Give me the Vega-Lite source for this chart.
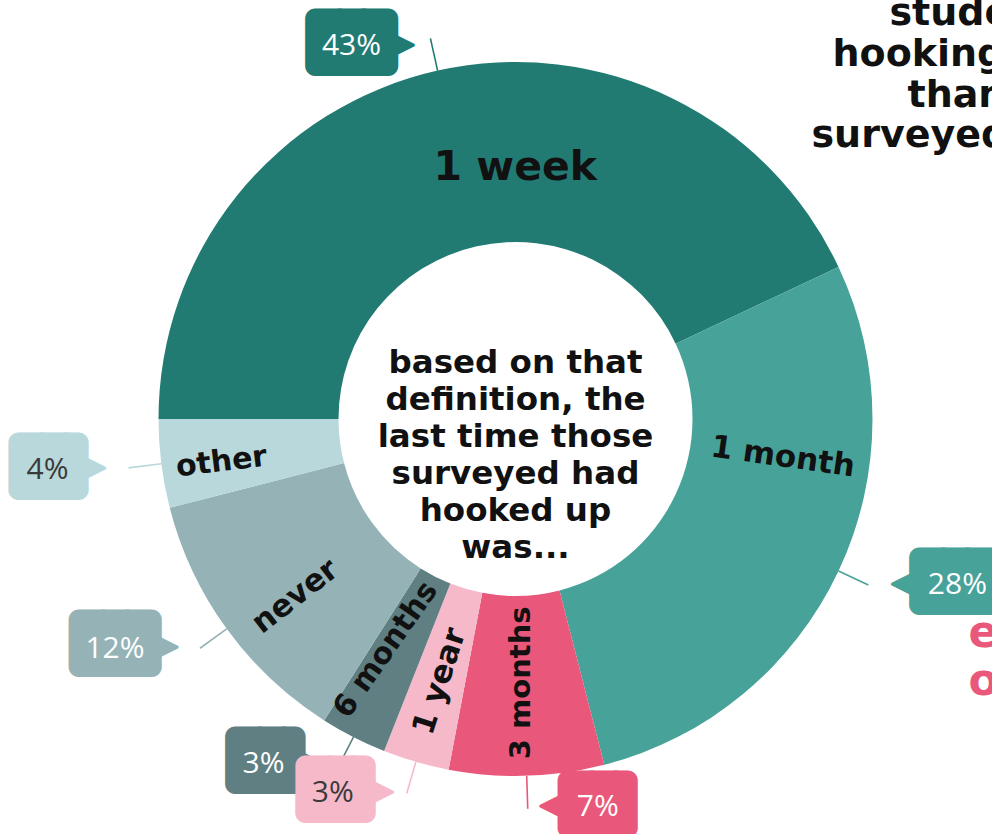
{
  "$schema": "https://vega.github.io/schema/vega-lite/v6.json",
  "width": 953,
  "height": 830,
  "padding": {"left": 39, "top": 4, "right": 0, "bottom": 0},
  "autosize": {"type": "none"},
  "background": "white",
  "config": {"view": {"stroke": null}},
  "data": {
    "values": [
      {"when": "1 week", "share": 0.43, "rank": 1},
      {"when": "1 month", "share": 0.28, "rank": 2},
      {"when": "3 months", "share": 0.07, "rank": 3},
      {"when": "1 year", "share": 0.03, "rank": 4},
      {"when": "6 months", "share": 0.03, "rank": 5},
      {"when": "never", "share": 0.12, "rank": 6},
      {"when": "other", "share": 0.04, "rank": 7}
    ]
  },
  "layer": [
    {
      "mark": {"type": "arc", "innerRadius": 177, "outerRadius": 357},
      "encoding": {
        "theta": {"field": "share", "type": "quantitative", "stack": true, "scale": {"domain": [0, 1], "range": [-1.5707963, 4.712389]}},
        "order": {"field": "rank", "type": "quantitative"},
        "color": {"field": "when", "type": "nominal", "legend": null,
          "scale": {"domain": ["1 week", "1 month", "3 months", "1 year", "6 months", "never", "other"],
                    "range": ["#217b73", "#47a29a", "#e9577b", "#f6b9ca", "#5f7f83", "#95b3b6", "#b8d8dc"]}}
      }
    },
    {
      "mark": {"type": "arc", "innerRadius": 357, "outerRadius": 390, "padAngle": 3, "filled": false, "strokeWidth": 1.6},
      "encoding": {
        "theta": {"field": "share", "type": "quantitative", "stack": true, "scale": {"domain": [0, 1], "range": [-1.5707963, 4.712389]}},
        "order": {"field": "rank", "type": "quantitative"},
        "color": {"field": "when", "type": "nominal", "legend": null,
          "scale": {"domain": ["1 week", "1 month", "3 months", "1 year", "6 months", "never", "other"],
                    "range": ["#217b73", "#47a29a", "#e9577b", "#f6b9ca", "#5f7f83", "#95b3b6", "#b8d8dc"]}}
      }
    },
    {
      "mark": {"type": "text", "radius": 267, "angle": 0, "dx": 58, "dy": 10, "font": "DejaVu Sans", "fontWeight": "bold", "fontSize": 41, "color": "#111111"},
      "encoding": {
        "theta": {"field": "share", "type": "quantitative", "stack": true, "scale": {"domain": [0, 1], "range": [-1.5707963, 4.712389]}},
        "order": {"field": "rank", "type": "quantitative"},
        "detail": {"field": "when", "type": "nominal"},
        "text": {"condition": {"test": "datum.when === '1 week'", "field": "when", "type": "nominal"}, "value": ""}
      }
    },
    {
      "mark": {"type": "text", "radius": 267, "angle": 8, "dx": 15, "dy": -78, "font": "DejaVu Sans", "fontWeight": "bold", "fontSize": 31, "color": "#111111"},
      "encoding": {
        "theta": {"field": "share", "type": "quantitative", "stack": true, "scale": {"domain": [0, 1], "range": [-1.5707963, 4.712389]}},
        "order": {"field": "rank", "type": "quantitative"},
        "detail": {"field": "when", "type": "nominal"},
        "text": {"condition": {"test": "datum.when === '1 month'", "field": "when", "type": "nominal"}, "value": ""}
      }
    },
    {
      "mark": {"type": "text", "radius": 267, "angle": -90, "dx": 3, "dy": -3, "font": "DejaVu Sans", "fontWeight": "bold", "fontSize": 29, "color": "#111111"},
      "encoding": {
        "theta": {"field": "share", "type": "quantitative", "stack": true, "scale": {"domain": [0, 1], "range": [-1.5707963, 4.712389]}},
        "order": {"field": "rank", "type": "quantitative"},
        "detail": {"field": "when", "type": "nominal"},
        "text": {"condition": {"test": "datum.when === '3 months'", "field": "when", "type": "nominal"}, "value": ""}
      }
    },
    {
      "mark": {"type": "text", "radius": 267, "angle": -72, "dx": -6, "dy": 1, "font": "DejaVu Sans", "fontWeight": "bold", "fontSize": 31, "color": "#111111"},
      "encoding": {
        "theta": {"field": "share", "type": "quantitative", "stack": true, "scale": {"domain": [0, 1], "range": [-1.5707963, 4.712389]}},
        "order": {"field": "rank", "type": "quantitative"},
        "detail": {"field": "when", "type": "nominal"},
        "text": {"condition": {"test": "datum.when === '1 year'", "field": "when", "type": "nominal"}, "value": ""}
      }
    },
    {
      "mark": {"type": "text", "radius": 267, "angle": -55, "dx": 1, "dy": -11, "font": "DejaVu Sans", "fontWeight": "bold", "fontSize": 30, "color": "#111111"},
      "encoding": {
        "theta": {"field": "share", "type": "quantitative", "stack": true, "scale": {"domain": [0, 1], "range": [-1.5707963, 4.712389]}},
        "order": {"field": "rank", "type": "quantitative"},
        "detail": {"field": "when", "type": "nominal"},
        "text": {"condition": {"test": "datum.when === '6 months'", "field": "when", "type": "nominal"}, "value": ""}
      }
    },
    {
      "mark": {"type": "text", "radius": 267, "angle": -38, "dx": -16, "dy": 14, "font": "DejaVu Sans", "fontWeight": "bold", "fontSize": 31, "color": "#111111"},
      "encoding": {
        "theta": {"field": "share", "type": "quantitative", "stack": true, "scale": {"domain": [0, 1], "range": [-1.5707963, 4.712389]}},
        "order": {"field": "rank", "type": "quantitative"},
        "detail": {"field": "when", "type": "nominal"},
        "text": {"condition": {"test": "datum.when === 'never'", "field": "when", "type": "nominal"}, "value": ""}
      }
    },
    {
      "mark": {"type": "text", "radius": 267, "angle": -7, "dx": -30, "dy": 6, "font": "DejaVu Sans", "fontWeight": "bold", "fontSize": 30, "color": "#111111"},
      "encoding": {
        "theta": {"field": "share", "type": "quantitative", "stack": true, "scale": {"domain": [0, 1], "range": [-1.5707963, 4.712389]}},
        "order": {"field": "rank", "type": "quantitative"},
        "detail": {"field": "when", "type": "nominal"},
        "text": {"condition": {"test": "datum.when === 'other'", "field": "when", "type": "nominal"}, "value": ""}
      }
    },

    {"mark": {"type": "text", "radius": 390, "font": "DejaVu Sans Mono", "fontSize": 40, "color": "#217b73", "stroke": "#217b73", "strokeWidth": 20, "strokeJoin": "round", "dx": -79, "dy": 6},
     "encoding": {"theta": {"field": "share", "type": "quantitative", "stack": true, "scale": {"domain": [0, 1], "range": [-1.5707963, 4.712389]}}, "order": {"field": "rank", "type": "quantitative"}, "detail": {"field": "when", "type": "nominal"},
       "text": {"condition": {"test": "datum.when === '1 week'", "value": "███"}, "value": ""}}},
    {"mark": {"type": "text", "radius": 390, "font": "DejaVu Sans", "fontSize": 34, "color": "#217b73", "stroke": "#217b73", "strokeWidth": 3, "strokeJoin": "round", "dx": -30, "dy": 6},
     "encoding": {"theta": {"field": "share", "type": "quantitative", "stack": true, "scale": {"domain": [0, 1], "range": [-1.5707963, 4.712389]}}, "order": {"field": "rank", "type": "quantitative"}, "detail": {"field": "when", "type": "nominal"},
       "text": {"condition": {"test": "datum.when === '1 week'", "value": "▶"}, "value": ""}}},
    {"mark": {"type": "text", "radius": 390, "font": "Open Sans", "fontSize": 30, "color": "#ffffff", "dx": -79, "dy": 8},
     "encoding": {"theta": {"field": "share", "type": "quantitative", "stack": true, "scale": {"domain": [0, 1], "range": [-1.5707963, 4.712389]}}, "order": {"field": "rank", "type": "quantitative"}, "detail": {"field": "when", "type": "nominal"},
       "text": {"condition": {"test": "datum.when === '1 week'", "field": "share", "type": "quantitative", "format": ".0%"}, "value": ""}}},

    {"mark": {"type": "text", "radius": 390, "font": "DejaVu Sans Mono", "fontSize": 40, "color": "#47a29a", "stroke": "#47a29a", "strokeWidth": 20, "strokeJoin": "round", "dx": 87, "dy": -2},
     "encoding": {"theta": {"field": "share", "type": "quantitative", "stack": true, "scale": {"domain": [0, 1], "range": [-1.5707963, 4.712389]}}, "order": {"field": "rank", "type": "quantitative"}, "detail": {"field": "when", "type": "nominal"},
       "text": {"condition": {"test": "datum.when === '1 month'", "value": "███"}, "value": ""}}},
    {"mark": {"type": "text", "radius": 390, "font": "DejaVu Sans", "fontSize": 34, "color": "#47a29a", "stroke": "#47a29a", "strokeWidth": 3, "strokeJoin": "round", "dx": 37, "dy": -2},
     "encoding": {"theta": {"field": "share", "type": "quantitative", "stack": true, "scale": {"domain": [0, 1], "range": [-1.5707963, 4.712389]}}, "order": {"field": "rank", "type": "quantitative"}, "detail": {"field": "when", "type": "nominal"},
       "text": {"condition": {"test": "datum.when === '1 month'", "value": "◀"}, "value": ""}}},
    {"mark": {"type": "text", "radius": 390, "font": "Open Sans", "fontSize": 30, "color": "#ffffff", "dx": 89, "dy": 0},
     "encoding": {"theta": {"field": "share", "type": "quantitative", "stack": true, "scale": {"domain": [0, 1], "range": [-1.5707963, 4.712389]}}, "order": {"field": "rank", "type": "quantitative"}, "detail": {"field": "when", "type": "nominal"},
       "text": {"condition": {"test": "datum.when === '1 month'", "field": "share", "type": "quantitative", "format": ".0%"}, "value": ""}}},

    {"mark": {"type": "text", "radius": 390, "font": "DejaVu Sans Mono", "fontSize": 40, "color": "#e9577b", "stroke": "#e9577b", "strokeWidth": 20, "strokeJoin": "round", "dx": 76, "dy": -3},
     "encoding": {"theta": {"field": "share", "type": "quantitative", "stack": true, "scale": {"domain": [0, 1], "range": [-1.5707963, 4.712389]}}, "order": {"field": "rank", "type": "quantitative"}, "detail": {"field": "when", "type": "nominal"},
       "text": {"condition": {"test": "datum.when === '3 months'", "value": "██▌"}, "value": ""}}},
    {"mark": {"type": "text", "radius": 390, "font": "DejaVu Sans", "fontSize": 34, "color": "#e9577b", "stroke": "#e9577b", "strokeWidth": 3, "strokeJoin": "round", "dx": 26, "dy": -4},
     "encoding": {"theta": {"field": "share", "type": "quantitative", "stack": true, "scale": {"domain": [0, 1], "range": [-1.5707963, 4.712389]}}, "order": {"field": "rank", "type": "quantitative"}, "detail": {"field": "when", "type": "nominal"},
       "text": {"condition": {"test": "datum.when === '3 months'", "value": "◀"}, "value": ""}}},
    {"mark": {"type": "text", "radius": 390, "font": "Open Sans", "fontSize": 30, "color": "#ffffff", "dx": 70, "dy": -2},
     "encoding": {"theta": {"field": "share", "type": "quantitative", "stack": true, "scale": {"domain": [0, 1], "range": [-1.5707963, 4.712389]}}, "order": {"field": "rank", "type": "quantitative"}, "detail": {"field": "when", "type": "nominal"},
       "text": {"condition": {"test": "datum.when === '3 months'", "field": "share", "type": "quantitative", "format": ".0%"}, "value": ""}}},

    {"mark": {"type": "text", "radius": 390, "font": "DejaVu Sans Mono", "fontSize": 40, "color": "#5f7f83", "stroke": "#5f7f83", "strokeWidth": 20, "strokeJoin": "round", "dx": -67, "dy": -4},
     "encoding": {"theta": {"field": "share", "type": "quantitative", "stack": true, "scale": {"domain": [0, 1], "range": [-1.5707963, 4.712389]}}, "order": {"field": "rank", "type": "quantitative"}, "detail": {"field": "when", "type": "nominal"},
       "text": {"condition": {"test": "datum.when === '6 months'", "value": "██▌"}, "value": ""}}},
    {"mark": {"type": "text", "radius": 390, "font": "DejaVu Sans", "fontSize": 34, "color": "#5f7f83", "stroke": "#5f7f83", "strokeWidth": 3, "strokeJoin": "round", "dx": -30, "dy": -4},
     "encoding": {"theta": {"field": "share", "type": "quantitative", "stack": true, "scale": {"domain": [0, 1], "range": [-1.5707963, 4.712389]}}, "order": {"field": "rank", "type": "quantitative"}, "detail": {"field": "when", "type": "nominal"},
       "text": {"condition": {"test": "datum.when === '6 months'", "value": "▶"}, "value": ""}}},
    {"mark": {"type": "text", "radius": 390, "font": "Open Sans", "fontSize": 30, "color": "#ffffff", "dx": -75, "dy": -2},
     "encoding": {"theta": {"field": "share", "type": "quantitative", "stack": true, "scale": {"domain": [0, 1], "range": [-1.5707963, 4.712389]}}, "order": {"field": "rank", "type": "quantitative"}, "detail": {"field": "when", "type": "nominal"},
       "text": {"condition": {"test": "datum.when === '6 months'", "field": "share", "type": "quantitative", "format": ".0%"}, "value": ""}}},

    {"mark": {"type": "text", "radius": 390, "font": "DejaVu Sans Mono", "fontSize": 40, "color": "#f6b9ca", "stroke": "#f6b9ca", "strokeWidth": 20, "strokeJoin": "round", "dx": -65, "dy": -3},
     "encoding": {"theta": {"field": "share", "type": "quantitative", "stack": true, "scale": {"domain": [0, 1], "range": [-1.5707963, 4.712389]}}, "order": {"field": "rank", "type": "quantitative"}, "detail": {"field": "when", "type": "nominal"},
       "text": {"condition": {"test": "datum.when === '1 year'", "value": "██▌"}, "value": ""}}},
    {"mark": {"type": "text", "radius": 390, "font": "DejaVu Sans", "fontSize": 34, "color": "#f6b9ca", "stroke": "#f6b9ca", "strokeWidth": 3, "strokeJoin": "round", "dx": -27, "dy": -3},
     "encoding": {"theta": {"field": "share", "type": "quantitative", "stack": true, "scale": {"domain": [0, 1], "range": [-1.5707963, 4.712389]}}, "order": {"field": "rank", "type": "quantitative"}, "detail": {"field": "when", "type": "nominal"},
       "text": {"condition": {"test": "datum.when === '1 year'", "value": "▶"}, "value": ""}}},
    {"mark": {"type": "text", "radius": 390, "font": "Open Sans", "fontSize": 30, "color": "#3a3a3a", "dx": -74, "dy": -1},
     "encoding": {"theta": {"field": "share", "type": "quantitative", "stack": true, "scale": {"domain": [0, 1], "range": [-1.5707963, 4.712389]}}, "order": {"field": "rank", "type": "quantitative"}, "detail": {"field": "when", "type": "nominal"},
       "text": {"condition": {"test": "datum.when === '1 year'", "field": "share", "type": "quantitative", "format": ".0%"}, "value": ""}}},

    {"mark": {"type": "text", "radius": 390, "font": "DejaVu Sans Mono", "fontSize": 40, "color": "#95b3b6", "stroke": "#95b3b6", "strokeWidth": 20, "strokeJoin": "round", "dx": -85, "dy": -3},
     "encoding": {"theta": {"field": "share", "type": "quantitative", "stack": true, "scale": {"domain": [0, 1], "range": [-1.5707963, 4.712389]}}, "order": {"field": "rank", "type": "quantitative"}, "detail": {"field": "when", "type": "nominal"},
       "text": {"condition": {"test": "datum.when === 'never'", "value": "███"}, "value": ""}}},
    {"mark": {"type": "text", "radius": 390, "font": "DejaVu Sans", "fontSize": 34, "color": "#95b3b6", "stroke": "#95b3b6", "strokeWidth": 3, "strokeJoin": "round", "dx": -36, "dy": -2},
     "encoding": {"theta": {"field": "share", "type": "quantitative", "stack": true, "scale": {"domain": [0, 1], "range": [-1.5707963, 4.712389]}}, "order": {"field": "rank", "type": "quantitative"}, "detail": {"field": "when", "type": "nominal"},
       "text": {"condition": {"test": "datum.when === 'never'", "value": "▶"}, "value": ""}}},
    {"mark": {"type": "text", "radius": 390, "font": "Open Sans", "fontSize": 30, "color": "#ffffff", "dx": -85, "dy": 1},
     "encoding": {"theta": {"field": "share", "type": "quantitative", "stack": true, "scale": {"domain": [0, 1], "range": [-1.5707963, 4.712389]}}, "order": {"field": "rank", "type": "quantitative"}, "detail": {"field": "when", "type": "nominal"},
       "text": {"condition": {"test": "datum.when === 'never'", "field": "share", "type": "quantitative", "format": ".0%"}, "value": ""}}},

    {"mark": {"type": "text", "radius": 390, "font": "DejaVu Sans Mono", "fontSize": 40, "color": "#b8d8dc", "stroke": "#b8d8dc", "strokeWidth": 20, "strokeJoin": "round", "dx": -74, "dy": 0},
     "encoding": {"theta": {"field": "share", "type": "quantitative", "stack": true, "scale": {"domain": [0, 1], "range": [-1.5707963, 4.712389]}}, "order": {"field": "rank", "type": "quantitative"}, "detail": {"field": "when", "type": "nominal"},
       "text": {"condition": {"test": "datum.when === 'other'", "value": "██▌"}, "value": ""}}},
    {"mark": {"type": "text", "radius": 390, "font": "DejaVu Sans", "fontSize": 34, "color": "#b8d8dc", "stroke": "#b8d8dc", "strokeWidth": 3, "strokeJoin": "round", "dx": -37, "dy": -1},
     "encoding": {"theta": {"field": "share", "type": "quantitative", "stack": true, "scale": {"domain": [0, 1], "range": [-1.5707963, 4.712389]}}, "order": {"field": "rank", "type": "quantitative"}, "detail": {"field": "when", "type": "nominal"},
       "text": {"condition": {"test": "datum.when === 'other'", "value": "▶"}, "value": ""}}},
    {"mark": {"type": "text", "radius": 390, "font": "Open Sans", "fontSize": 30, "color": "#3a3a3a", "dx": -81, "dy": 2},
     "encoding": {"theta": {"field": "share", "type": "quantitative", "stack": true, "scale": {"domain": [0, 1], "range": [-1.5707963, 4.712389]}}, "order": {"field": "rank", "type": "quantitative"}, "detail": {"field": "when", "type": "nominal"},
       "text": {"condition": {"test": "datum.when === 'other'", "field": "share", "type": "quantitative", "format": ".0%"}, "value": ""}}},

    {
      "data": {"values": [{"caption": "center"}]},
      "mark": {"type": "text", "text": ["based on that", "definition, the", "last time those", "surveyed had", "hooked up", "was..."],
               "font": "DejaVu Sans", "fontWeight": "bold", "fontSize": 32.5, "lineHeight": 37, "align": "center", "baseline": "middle", "dy": -56, "color": "#111111"},
      "encoding": {}
    },
    {
      "data": {"values": [{"caption": "side"}]},
      "mark": {"type": "text", "text": "students", "font": "DejaVu Sans", "fontWeight": "bold", "fontSize": 38, "align": "left", "baseline": "alphabetic", "dx": 374, "dy": -394, "color": "#111111"},
      "encoding": {}
    },
    {
      "data": {"values": [{"caption": "side"}]},
      "mark": {"type": "text", "text": "hooking", "font": "DejaVu Sans", "fontWeight": "bold", "fontSize": 38, "align": "left", "baseline": "alphabetic", "dx": 317, "dy": -353, "color": "#111111"},
      "encoding": {}
    },
    {
      "data": {"values": [{"caption": "side"}]},
      "mark": {"type": "text", "text": "than", "font": "DejaVu Sans", "fontWeight": "bold", "fontSize": 38, "align": "left", "baseline": "alphabetic", "dx": 392, "dy": -312, "color": "#111111"},
      "encoding": {}
    },
    {
      "data": {"values": [{"caption": "side"}]},
      "mark": {"type": "text", "text": "surveyed", "font": "DejaVu Sans", "fontWeight": "bold", "fontSize": 38, "align": "left", "baseline": "alphabetic", "dx": 296, "dy": -272, "color": "#111111"},
      "encoding": {}
    },
    {
      "data": {"values": [{"caption": "side"}]},
      "mark": {"type": "text", "text": "e", "font": "DejaVu Sans", "fontWeight": "bold", "fontSize": 44, "align": "left", "baseline": "alphabetic", "dx": 453, "dy": 228, "color": "#e9577b"},
      "encoding": {}
    },
    {
      "data": {"values": [{"caption": "side"}]},
      "mark": {"type": "text", "text": "o", "font": "DejaVu Sans", "fontWeight": "bold", "fontSize": 44, "align": "left", "baseline": "alphabetic", "dx": 453, "dy": 276, "color": "#e9577b"},
      "encoding": {}
    }
  ]
}
